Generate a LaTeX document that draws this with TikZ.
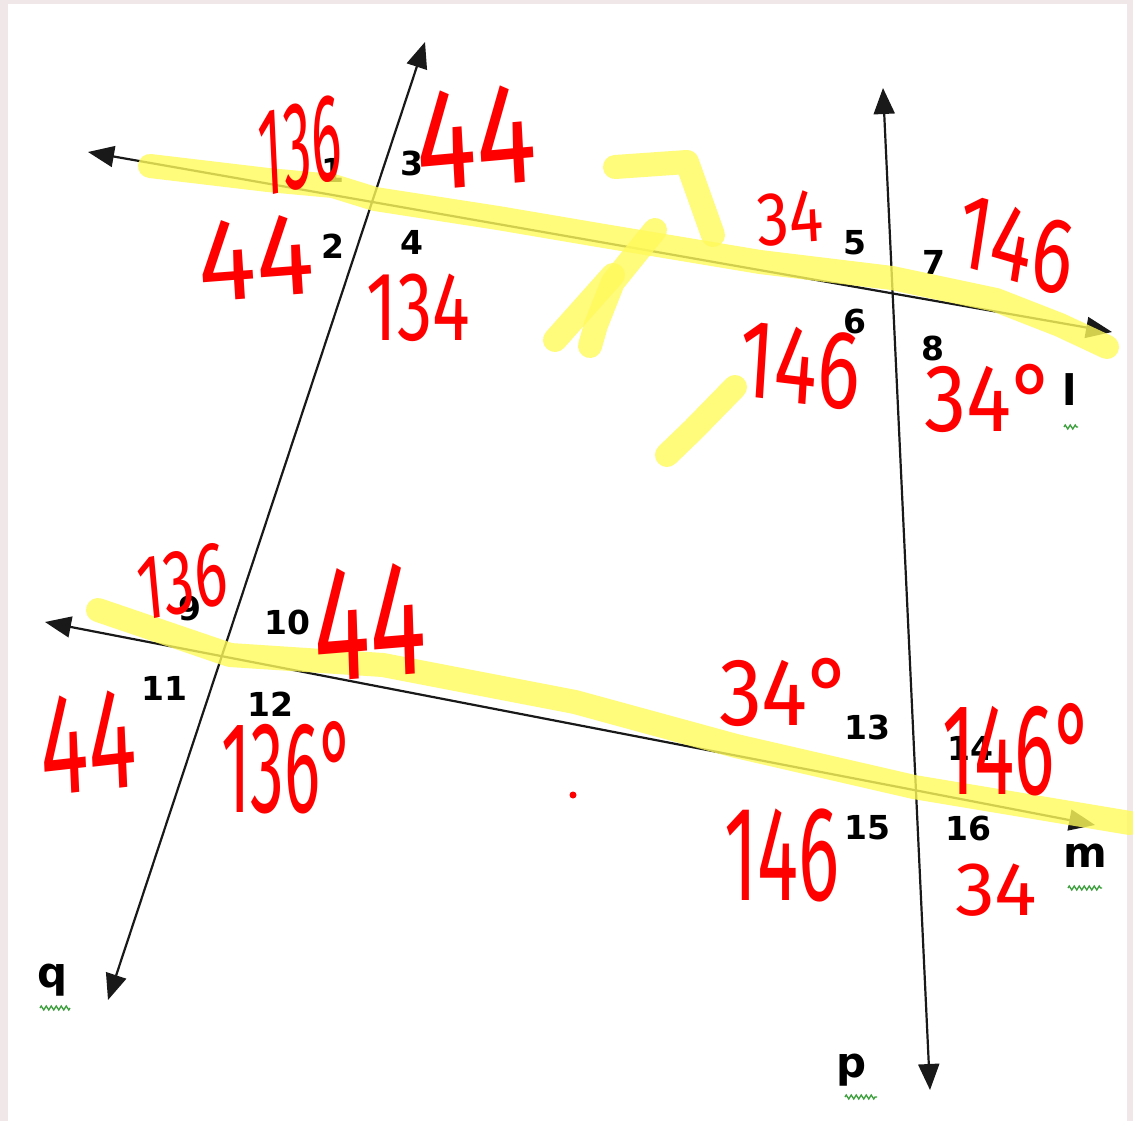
\documentclass[tikz,border=0pt]{standalone}
\usepackage{fontspec}
\newfontfamily\labelfont{DejaVu Sans}
\newfontfamily\handfont{Fira Sans}
\usetikzlibrary{arrows.meta,decorations.pathmorphing}
\definecolor{frame}{RGB}{240,232,232}
\definecolor{marker}{RGB}{255,250,90}
\definecolor{pen}{RGB}{255,0,0}
\definecolor{spell}{RGB}{60,160,60}

\begin{document}
\begin{tikzpicture}[
    x=1pt, y=-1pt,
    line/.style={draw=black!90, line width=2.2pt, {Triangle[length=26pt,width=21pt]}-{Triangle[length=26pt,width=21pt]}},
    num/.style={font=\labelfont\bfseries\fontsize{33}{33}\selectfont, inner sep=0pt},
    letter/.style={font=\labelfont\bfseries\fontsize{42}{42}\selectfont, inner sep=0pt},
    hl/.style={draw=marker, opacity=0.8, line width=24pt, line cap=round, line join=round},
    hand/.style={text=pen, font=\handfont, inner sep=0pt},
    squiggle/.style={draw=spell, line width=1.3pt, decorate, decoration={zigzag, segment length=5pt, amplitude=2pt}}
  ]
  % page and frame
  \useasboundingbox (0,0) rectangle (1133,1121);
  \fill[frame] (0,0) rectangle (1133,1121);
  \fill[white] (8,4) rectangle (1127,1121);

  % the four lines
  \coordinate (l-w) at (88,152);  \coordinate (l-e) at (1112,332);
  \coordinate (m-w) at (45,622);  \coordinate (m-e) at (1095,825);
  \coordinate (q-n) at (425,42);  \coordinate (q-s) at (108,1000);
  \coordinate (p-n) at (883,88);  \coordinate (p-s) at (930,1090);
  \draw[line] (l-w) -- (l-e);
  \draw[line] (m-w) -- (m-e);
  \draw[line] (q-n) -- (q-s);
  \draw[line] (p-n) -- (p-s);

  % angle numbers
  \node[num] (n1) at (333,170) {1};
  \node[num] (n2) at (333,246) {2};
  \node[num] (n3) at (412,163) {3};
  \node[num] (n4) at (412,242) {4};
  \node[num] (n5) at (855,243) {5};
  \node[num] (n6) at (855,322) {6};
  \node[num] (n7) at (934,262) {7};
  \node[num] (n8) at (933,348) {8};
  \node[num] (n9) at (190,608) {9};
  \node[num] (n10) at (287,622) {10};
  \node[num] (n11) at (164,688) {11};
  \node[num] (n12) at (270,704) {12};
  \node[num] (n13) at (867,727) {13};
  \node[num] (n14) at (970,748) {14};
  \node[num] (n15) at (867,828) {15};
  \node[num] (n16) at (968,828) {16};

  % line names
  \node[letter] (lab-l) at (1070,390) {l};
  \node[letter] (lab-m) at (1085,856) {m};
  \node[letter] (lab-p) at (852,1070) {p};
  \node[letter] (lab-q) at (53,980) {q};
  \draw[squiggle] (1064,427) -- (1078,427);
  \draw[squiggle] (1068,888) -- (1102,888);
  \draw[squiggle] (845,1097) -- (877,1097);
  \draw[squiggle] (40,1008) -- (70,1008);

  % highlighter
  \draw[hl] (150,166) -- (268,180) -- (333,186) -- (375,199) -- (498,218) -- (598,235) -- (760,262) -- (892,278) -- (996,300) -- (1060,325) -- (1107,347);
  \draw[hl] (98,610) -- (230,655) -- (383,665) -- (575,702) -- (736,746) -- (914,787) -- (1130,823);
  \draw[hl] (615,167) -- (687,162) -- (713,235);
  \draw[hl] (655,230) -- (613,282) -- (596,325) -- (590,346);
  \draw[hl] (613,275) -- (555,340);
  \draw[hl] (735,387) -- (693,430) -- (667,455);

  % handwritten angle sizes
  \node[hand, xscale=0.45, rotate=6] (h1) at (300,146) {\fontsize{125}{125}\selectfont 136};
  \node[hand, xscale=0.78, rotate=4] (h3) at (476,137) {\fontsize{145}{145}\selectfont 44};
  \node[hand, xscale=0.92, rotate=4] (h2) at (256,258) {\fontsize{118}{118}\selectfont 44};
  \node[hand, xscale=0.72] (h4) at (418,308) {\fontsize{98}{98}\selectfont 134};
  \node[hand, xscale=0.85, rotate=4] (h5) at (790,218) {\fontsize{76}{76}\selectfont 34};
  \node[hand, xscale=0.72, rotate=-12] (h7) at (1016,245) {\fontsize{108}{108}\selectfont 146};
  \node[hand, xscale=0.72, rotate=-5] (h6) at (800,366) {\fontsize{112}{112}\selectfont 146};
  \node[hand, xscale=0.88] (h8) at (990,398) {\fontsize{96}{96}\selectfont 34°};
  \node[hand, xscale=0.67, rotate=8] (h9) at (182,582) {\fontsize{92}{92}\selectfont 136};
  \node[hand, xscale=0.64, rotate=3] (h10) at (370,622) {\fontsize{165}{165}\selectfont 44};
  \node[hand, xscale=0.62, rotate=4] (h11) at (88,742) {\fontsize{145}{145}\selectfont 44};
  \node[hand, xscale=0.52] (h12) at (288,768) {\fontsize{130}{130}\selectfont 136°};
  \node[hand, xscale=0.9] (h13) at (786,692) {\fontsize{96}{96}\selectfont 34°};
  \node[hand, xscale=0.58] (h14) at (1018,750) {\fontsize{130}{130}\selectfont 146°};
  \node[hand, xscale=0.57] (h15) at (782,855) {\fontsize{135}{135}\selectfont 146};
  \node[hand, xscale=1.05] (h16) at (996,890) {\fontsize{76}{76}\selectfont 34};
  \fill[pen] (573,795) circle (3.5);
\end{tikzpicture}
\end{document}
